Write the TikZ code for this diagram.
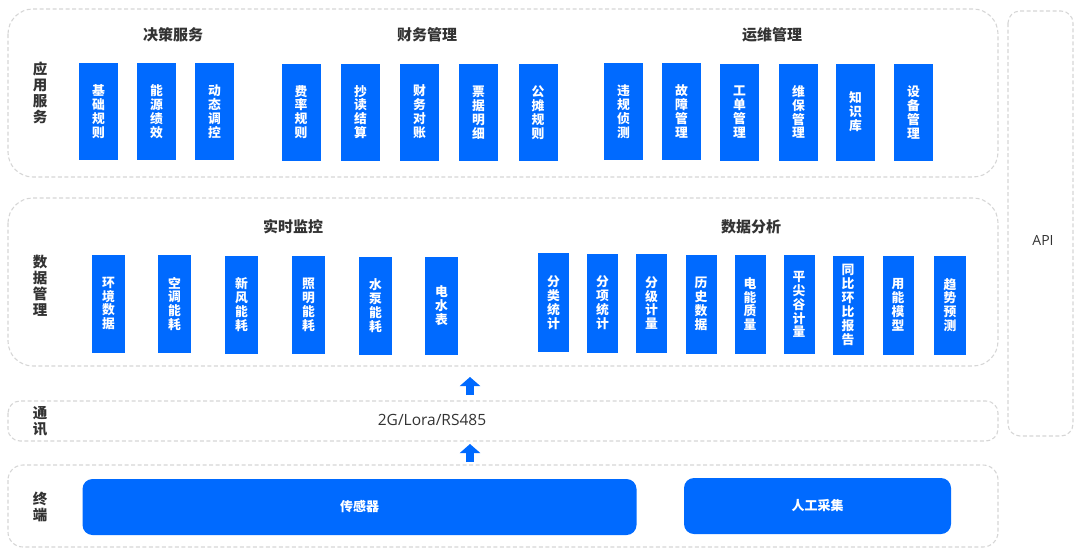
\documentclass[tikz,border=0pt]{standalone}
\usepackage{fontspec}
\setmainfont{Noto Sans CJK SC}
\newfontfamily\latinf{Open Sans}
\usetikzlibrary{arrows.meta}
\definecolor{mainblue}{RGB}{0,106,255}
\definecolor{dashgray}{RGB}{214,214,214}
\definecolor{labelgray}{RGB}{51,51,51}
\tikzset{
  layer/.style={draw=dashgray, line width=1.1pt, dash pattern=on 4pt off 2.5pt},
  blk/.style={fill=mainblue, draw=none, text=white, inner sep=0pt, align=center,
    font=\fontsize{12.8}{13.9}\selectfont\bfseries},
  topbox/.style={blk, minimum width=39pt, minimum height=97pt},
  monbox/.style={blk, minimum width=33pt, minimum height=98pt},
  anabox/.style={blk, minimum width=31pt, minimum height=99pt},
  termbox/.style={fill=mainblue, draw=none, text=white, rounded corners=10pt,
    font=\fontsize{13}{15}\selectfont\bfseries},
  grouptitle/.style={text=labelgray, font=\fontsize{15}{17}\selectfont\bfseries, inner sep=0pt},
  rowlabel/.style={text=labelgray, align=center, inner sep=0pt,
    font=\fontsize{14.5}{16}\selectfont\bfseries},
  plain/.style={text=labelgray, inner sep=0pt, font=\latinf\fontsize{14}{16}\selectfont},
  uparrow/.style={draw=mainblue, line width=8pt, -{Triangle[width=20pt,length=9pt]}, shorten >=0pt},
}
\begin{document}
\begin{tikzpicture}[x=1pt,y=-1pt]
\useasboundingbox (0,0) rectangle (1080,552);
% layers
\draw[layer, rounded corners=25pt] (8,9) rectangle (998,177);
\draw[layer, rounded corners=25pt] (8,198) rectangle (998,366);
\draw[layer, rounded corners=12pt] (8,401) rectangle (998,441);
\draw[layer, rounded corners=15pt] (8,465) rectangle (998,547);
\draw[layer, rounded corners=12pt] (1008,11) rectangle (1073,436);
% row labels
\node[rowlabel] (l1) at (40,93) {应\\用\\服\\务};
\node[rowlabel] (l2) at (40,286) {数\\据\\管\\理};
\node[rowlabel] (l3) at (40,421) {通\\讯};
\node[rowlabel] (l4) at (40,507) {终\\端};
% group titles
\node[grouptitle] (t1) at (173,35) {决策服务};
\node[grouptitle] (t2) at (427,35) {财务管理};
\node[grouptitle] (t3) at (772,35) {运维管理};
\node[grouptitle] (t4) at (293,227) {实时监控};
\node[grouptitle] (t5) at (751,227) {数据分析};
% application boxes
\node[topbox] (a1) at (98.5,111.5) {基\\础\\规\\则};
\node[topbox] (a2) at (156.5,111.5) {能\\源\\绩\\效};
\node[topbox] (a3) at (214.5,111.5) {动\\态\\调\\控};
\node[topbox] (a4) at (301,112) {费\\率\\规\\则};
\node[topbox] (a5) at (360.5,112) {抄\\读\\结\\算};
\node[topbox] (a6) at (419.5,112) {财\\务\\对\\账};
\node[topbox] (a7) at (478.5,112.5) {票\\据\\明\\细};
\node[topbox] (a8) at (538,112.5) {公\\摊\\规\\则};
\node[topbox] (a9) at (623.5,111.5) {违\\规\\侦\\测};
\node[topbox] (a10) at (681.5,111.5) {故\\障\\管\\理};
\node[topbox] (a11) at (739.5,112) {工\\单\\管\\理};
\node[topbox] (a12) at (798.5,112) {维\\保\\管\\理};
\node[topbox] (a13) at (855.5,112) {知\\识\\库};
\node[topbox] (a14) at (913.5,112.5) {设\\备\\管\\理};
% monitoring boxes
\node[monbox] (m1) at (108.5,303.5) {环\\境\\数\\据};
\node[monbox] (m2) at (174.5,304) {空\\调\\能\\耗};
\node[monbox] (m3) at (241.5,304.5) {新\\风\\能\\耗};
\node[monbox] (m4) at (308.5,305) {照\\明\\能\\耗};
\node[monbox] (m5) at (375.5,305.5) {水\\泵\\能\\耗};
\node[monbox] (m6) at (441.5,306) {电\\水\\表};
% analysis boxes
\node[anabox] (d1) at (553.5,302.5) {分\\类\\统\\计};
\node[anabox] (d2) at (602.5,303) {分\\项\\统\\计};
\node[anabox] (d3) at (651.5,303) {分\\级\\计\\量};
\node[anabox] (d4) at (701,304) {历\\史\\数\\据};
\node[anabox] (d5) at (750,304) {电\\能\\质\\量};
\node[anabox] (d6) at (799,304.5) {平\\尖\\谷\\计\\量};
\node[anabox] (d7) at (848,305) {同\\比\\环\\比\\报\\告};
\node[anabox] (d8) at (898,305) {用\\能\\模\\型};
\node[anabox, minimum width=32pt] (d9) at (950,305) {趋\\势\\预\\测};
% comm text
\node[plain, font=\latinf\fontsize{15.5}{17}\selectfont] (comm) at (432,420) {2G/Lora/RS485};
\node[plain] (api) at (1043,240) {API};
% terminal boxes
\node[termbox, minimum width=554pt, minimum height=56pt] (sensor) at (359.5,507) {传感器};
\node[termbox, minimum width=267pt, minimum height=56pt] (manual) at (817.5,506) {人工采集};
% arrows
\coordinate (a1s) at (470,395);
\coordinate (a1e) at (470,377);
\coordinate (a2s) at (470,462);
\coordinate (a2e) at (470,444);
\draw[uparrow] (a1s) -- (a1e);
\draw[uparrow] (a2s) -- (a2e);
\end{tikzpicture}
\end{document}
